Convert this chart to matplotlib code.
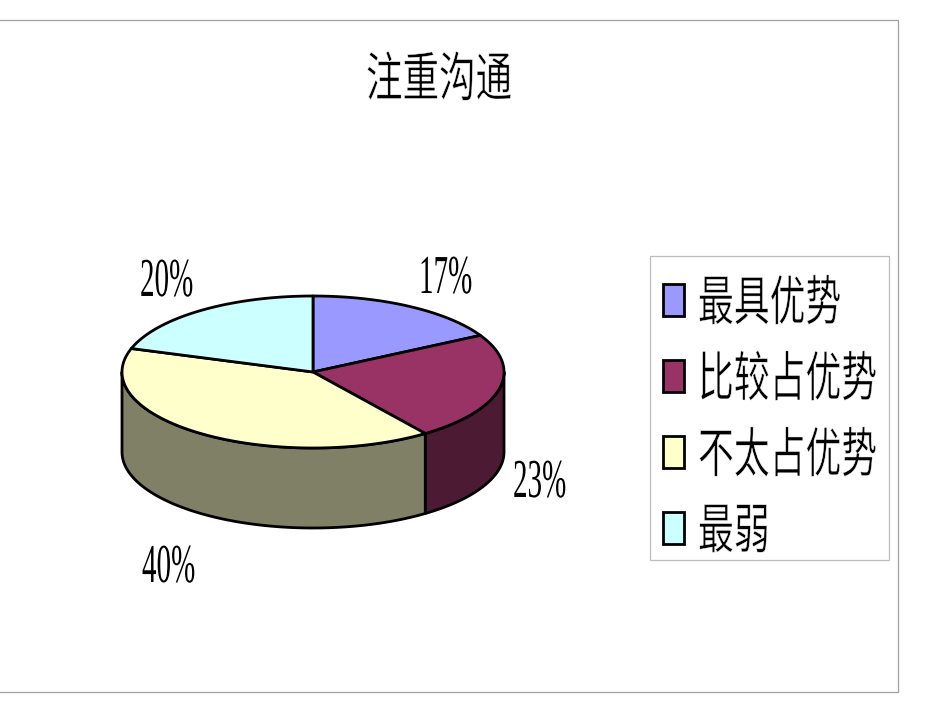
import numpy as np
import matplotlib
matplotlib.use('Agg')
import matplotlib.pyplot as plt
import matplotlib.patheffects as pe
from matplotlib.patches import Rectangle
from matplotlib.transforms import Affine2D

title = '注重沟通'
categories = ['最具优势', '比较占优势', '不太占优势', '最弱']
values = [17, 23, 40, 20]
top_colors = ['#9999FF', '#993366', '#FFFFCC', '#CCFFFF']
side_colors = ['#4D4D80', '#4D1A33', '#808066', '#668080']
# where each percent label sits (left, baseline) in pixels
label_pos = [(419, 293), (513, 497), (142, 582), (140, 296)]

cx, cy, rx, ry, depth = 313, 372, 191, 76, 80
lw = 2.0


class Stretch(pe.AbstractPathEffect):
    # the source font is a tall narrow one, so squeeze the glyphs
    def __init__(self, sx, sy, thin=0):
        super().__init__()
        self.sx = sx
        self.sy = sy
        self.thin = thin

    def draw_path(self, renderer, gc, tpath, affine, rgbFace=None):
        aff = Affine2D().scale(self.sx, self.sy) + affine
        renderer.draw_path(gc, tpath, aff, rgbFace)
        if self.thin:
            # white outline eats into the heavy sans strokes
            gc.set_foreground('white')
            gc.set_linewidth(self.thin)
            renderer.draw_path(gc, tpath, aff, None)


def rim(a, b):
    t = np.radians(np.linspace(a, b, 120))
    return cx + rx * np.sin(t), cy - ry * np.cos(t)


fig = plt.figure(figsize=(9.5, 7.13), dpi=100)
ax = fig.add_axes([0, 0, 1, 1])
ax.set_xlim(0, 950)
ax.set_ylim(713, 0)
ax.axis('off')

# chart frame, the left side is cut off by the slide
ax.plot([0, 898, 898, 0], [20, 20, 692, 692], color='#A0A0A0', lw=0.9)

edges = np.cumsum([0] + values) / sum(values) * 360

# outer wall, only the front half shows
for i in range(len(values)):
    a = max(edges[i], 90)
    b = min(edges[i + 1], 270)
    if a >= b:
        continue
    x, y = rim(a, b)
    ax.fill(np.r_[x, x[::-1]], np.r_[y, y[::-1] + depth], fc=side_colors[i], ec='black', lw=lw, joinstyle='round')

# top face
for i in range(len(values)):
    x, y = rim(edges[i], edges[i + 1])
    ax.fill(np.r_[cx, x], np.r_[cy, y], fc=top_colors[i], ec='black', lw=lw, joinstyle='round')

ax.text(366, 96, title, fontsize=26.3, family=['Noto Sans CJK SC', 'DejaVu Sans'],
        ha='left', va='baseline', path_effects=[Stretch(1.0, 1.45, thin=0.35)])

for v, (lx, ly) in zip(values, label_pos):
    ax.text(lx, ly, f'{v}%', fontsize=39.5, family='Liberation Serif', ha='left', va='baseline',
            path_effects=[Stretch(0.53, 1.0)])

# legend drawn by hand to keep the tall glyphs and the box position
ax.add_patch(Rectangle((650, 256), 239, 304, fc='white', ec='#BDBDBD', lw=0.9))
for i, name in enumerate(categories):
    top = 284 + i * 76
    ax.add_patch(Rectangle((663, top), 21, 32, fc=top_colors[i], ec='black', lw=lw))
    ax.text(698, top + 36, name, fontsize=25.8, family=['Noto Sans CJK SC', 'DejaVu Sans'],
            ha='left', va='baseline', path_effects=[Stretch(1.0, 1.5, thin=0.35)])

fig.savefig('out.png', dpi=100)
